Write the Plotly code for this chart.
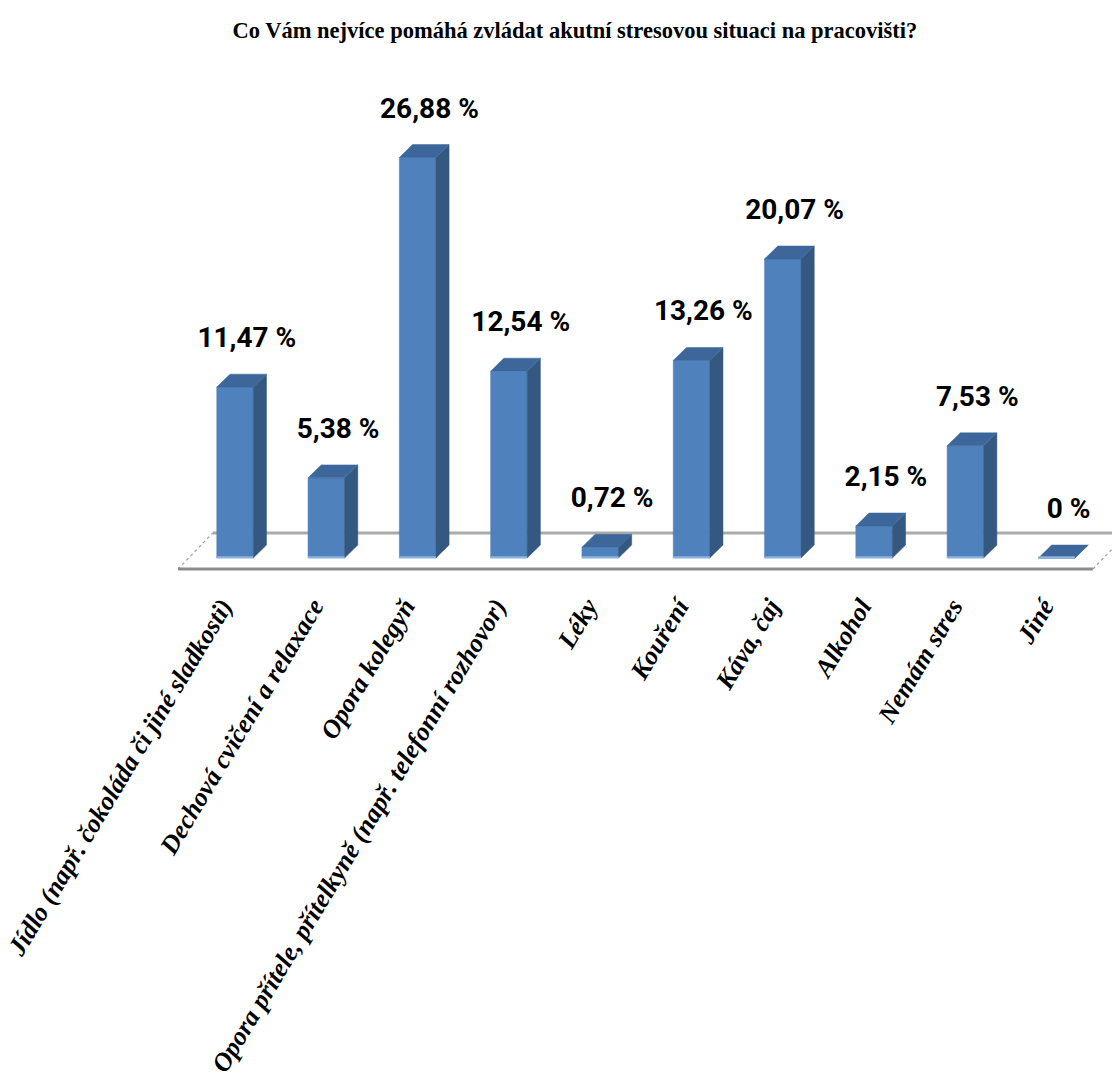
import plotly.graph_objects as go

categories = [
    "Jídlo (např. čokoláda či jiné sladkosti)",
    "Dechová cvičení a relaxace",
    "Opora kolegyň",
    "Opora přítele, přítelkyně (např. telefonní rozhovor)",
    "Léky",
    "Kouření",
    "Káva, čaj",
    "Alkohol",
    "Nemám stres",
    "Jiné",
]
values = [11.47, 5.38, 26.88, 12.54, 0.72, 13.26, 20.07, 2.15, 7.53, 0]
value_labels = ["11,47 %", "5,38 %", "26,88 %", "12,54 %", "0,72 %",
                "13,26 %", "20,07 %", "2,15 %", "7,53 %", "0 %"]
title_text = "Co Vám nejvíce pomáhá zvládat akutní stresovou situaci na pracovišti?"

# style constants
FRONT = "#4F81BD"
SIDE = "#34587F"
TOP = "#3D679A"
BASE = "#8DB3E2"
BAR_W = 0.40
DX = 0.145   # depth offset (x units)
DY = 0.87    # depth offset (value units)
TICK_SHIFT = -0.14

n = len(categories)
xs = list(range(n))

fig = go.Figure()

# floor (first traces, so the bars cover it)
fl_front_l, fl_front_r = -0.624, n - 1 + 0.397
fl_back_l, fl_back_r = fl_front_l + 0.38, fl_front_r + 0.38
fl_front_y, fl_back_y = -0.74, 1.68
floor_lines = [
    (fl_back_l, fl_back_y, fl_back_r, fl_back_y, "#ABABAB", 3, "solid"),
    (fl_front_l, fl_front_y, fl_back_l, fl_back_y, "#A0A0A0", 1.2, "dot"),
    (fl_front_r, fl_front_y, fl_back_r, fl_back_y, "#A0A0A0", 1.2, "dot"),
    (fl_front_l, fl_front_y, fl_front_r, fl_front_y, "#8C8C8C", 3, "solid"),
]
for x0, y0, x1, y1, c, w, d in floor_lines:
    fig.add_trace(go.Scatter(x=[x0, x1], y=[y0, y1], mode="lines",
                             line=dict(color=c, width=w, dash=d),
                             hoverinfo="skip", showlegend=False))

# 3D bars: front, side, top faces + base highlight
for x, v in zip(xs, values):
    xl, xr = x - BAR_W / 2, x + BAR_W / 2
    fig.add_trace(go.Scatter(
        x=[xl, xr, xr, xl, xl], y=[0, 0, v, v, 0],
        mode="lines", fill="toself", fillcolor=FRONT, line=dict(color=FRONT, width=0.5),
        hoverinfo="skip", showlegend=False))
    fig.add_trace(go.Scatter(
        x=[xr, xr + DX, xr + DX, xr, xr], y=[0, DY, v + DY, v, 0],
        mode="lines", fill="toself", fillcolor=SIDE, line=dict(color=SIDE, width=0.5),
        hoverinfo="skip", showlegend=False))
    fig.add_trace(go.Scatter(
        x=[xl, xr, xr + DX, xl + DX, xl], y=[v, v, v + DY, v + DY, v],
        mode="lines", fill="toself", fillcolor=TOP, line=dict(color=TOP, width=0.5),
        hoverinfo="skip", showlegend=False))
    fig.add_trace(go.Scatter(
        x=[xl, xr], y=[0.05, 0.05], mode="lines", line=dict(color=BASE, width=2),
        hoverinfo="skip", showlegend=False))

# value labels
fig.add_trace(go.Scatter(
    x=[x + 0.13 for x in xs], y=[v + 3.15 for v in values], mode="text",
    text=value_labels, textposition="middle center",
    textfont=dict(family="Roboto, Liberation Sans Narrow, sans-serif", size=28,
                  color="#000000", weight="bold"),
    hoverinfo="skip", showlegend=False))

fig.update_layout(
    width=1112, height=1079,
    margin=dict(l=0, r=0, t=0, b=494),
    paper_bgcolor="white", plot_bgcolor="white",
    title=dict(text=title_text, x=0.517, xanchor="center", y=0.972, yanchor="middle",
               font=dict(family="Liberation Serif, Times New Roman, serif", size=22.5,
                         color="#000000", weight="bold")),
    xaxis=dict(range=[-2.574, 9.606], tickmode="array",
               tickvals=[x + TICK_SHIFT for x in xs], ticktext=categories,
               tickangle=-59, showgrid=False, zeroline=False, showline=False, ticks="",
               tickfont=dict(family="Liberation Serif, Times New Roman, serif", size=26,
                             color="#000000", weight="bold", style="italic")),
    yaxis=dict(range=[-1.812, 37.45], visible=False, showgrid=False, zeroline=False),
)

fig.write_html("out.html")
